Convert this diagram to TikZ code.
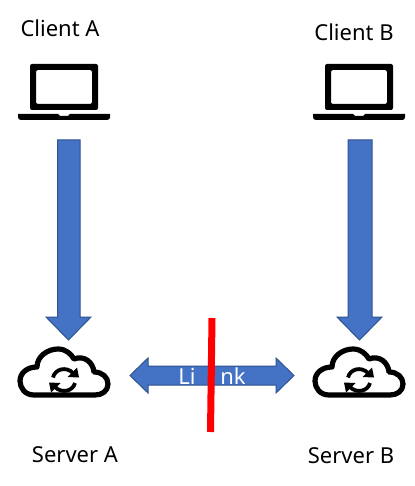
\documentclass[tikz,border=0pt]{standalone}
\usepackage{fontspec}
\setmainfont{Noto Sans}
\usetikzlibrary{arrows.meta}
\definecolor{blockblue}{HTML}{4472C4}
\definecolor{blockedge}{HTML}{2F528F}
\tikzset{
  x=1pt,y=-1pt,
  label text/.style={font=\fontsize{22}{26}\selectfont,text=black,inner sep=0pt,anchor=center},
  link text/.style={font=\fontsize{22}{26}\selectfont,text=white,inner sep=0pt,anchor=base},
  block arrow/.style={fill=blockblue,draw=blockedge,line width=1pt,line join=miter},
  cut line/.style={draw=red,line width=7pt},
  icon line/.style={draw=black,line width=5.2pt},
  laptop/.pic={
    \path[fill=black,even odd rule,rounded corners=2pt]
      (30,110) -- (30,64) -- (98,64) -- (98,110) -- cycle
      (36,104) -- (36,70) -- (92,70) -- (92,104) -- cycle;
    \path[fill=black] (18,114) -- (58,114) -- (60,116) -- (68,116) -- (70,114) -- (110,114)
      -- (110,117) .. controls (110,119) and (109,120) .. (107,120)
      -- (21,120) .. controls (19,120) and (18,119) .. (18,117) -- cycle;
  },
  cloudicon/.pic={
    \path[icon line,line join=round]
      (34,395) .. controls (25,395) and (20,388) .. (20,381)
      .. controls (20,373) and (27,367) .. (37,367)
      .. controls (37,356) and (48,349) .. (58,349)
      .. controls (66,349) and (71,354) .. (74,359)
      .. controls (84,355) and (93,362) .. (94,372)
      .. controls (102,372) and (108,377) .. (108,384)
      .. controls (108,391) and (102,395) .. (95,395) -- cycle;
    \path[draw=black,line width=3.8pt] (53,377.5) .. controls (55,369) and (66,366) .. (73,373);
    \path[fill=black] (67.5,377) -- (79,377.5) -- (77,367.5) -- cycle;
    \path[draw=black,line width=3.8pt] (75,383) .. controls (73,391) and (62,394) .. (55,387);
    \path[fill=black] (60.5,383) -- (49,382.5) -- (51,392.5) -- cycle;
  }
}
\begin{document}
\begin{tikzpicture}
\useasboundingbox (0,0) rectangle (414,486);
\fill[white] (0,0) rectangle (414,486);
\node[label text] (clientA) at (60,28) {Client A};
\node[label text] (clientB) at (354,32) {Client B};
\node[label text] (serverA) at (75,455) {Server A};
\node[label text] (serverB) at (351,456) {Server B};
\pic {laptop};
\pic at (295,0) {laptop};
\pic {cloudicon};
\pic at (295,0) {cloudicon};
\path[block arrow] (57.5,140) -- (80,140) -- (80,317) -- (91,317) -- (68.5,340) -- (46,317) -- (57.5,317) -- cycle;
\path[block arrow] (348,140) -- (372,140) -- (372,317) -- (382,317) -- (359.5,340) -- (337,317) -- (348,317) -- cycle;
\path[block arrow] (130,375.5) -- (148,358) -- (148,366) -- (276,366) -- (276,358) -- (294,375.5) -- (276,393) -- (276,385) -- (148,385) -- (148,393) -- cycle;
\node[link text] (linkL) at (187,384) {Li};
\node[link text] (linkR) at (233,384) {nk};
\path[cut line] (212,318) -- (210.5,432);
\end{tikzpicture}
\end{document}
